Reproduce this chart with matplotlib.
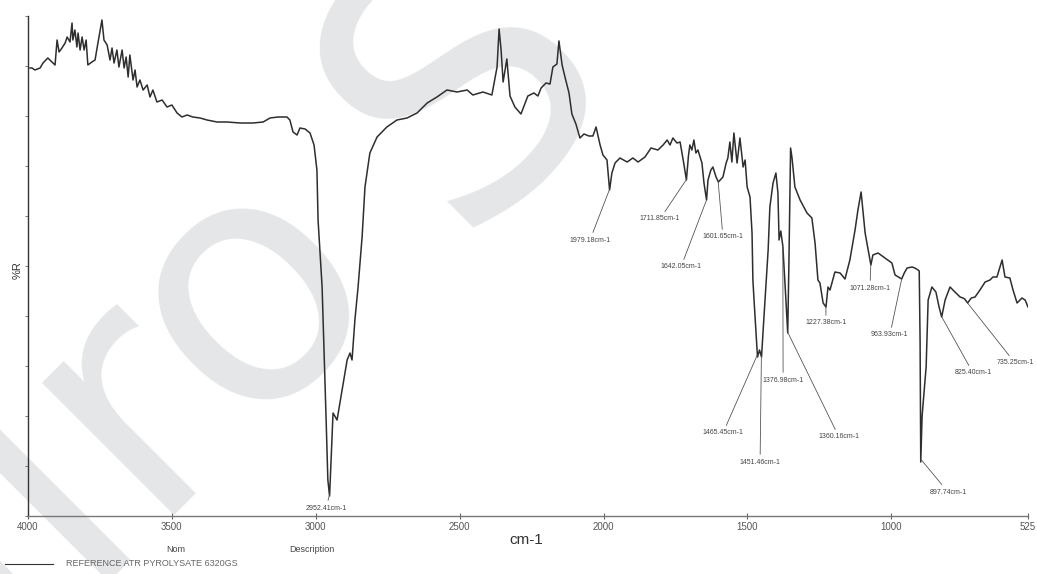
import matplotlib
matplotlib.use('Agg')
import matplotlib.pyplot as plt
import numpy as np

# ---------------- data ----------------
wavenumber = [3993, 3986, 3976, 3958, 3948, 3931, 3917, 3906, 3899, 3892, 3882, 3871, 3864, 3854,
              3847, 3844, 3837, 3830, 3826, 3819, 3812, 3805, 3798, 3792, 3778, 3767, 3757, 3743,
              3736, 3725, 3715, 3708, 3701, 3691, 3684, 3673, 3666, 3659, 3652, 3646, 3635, 3628,
              3621, 3611, 3600, 3586, 3576, 3566, 3552, 3534, 3517, 3500, 3482, 3465, 3447, 3427,
              3402, 3378, 3343, 3308, 3263, 3218, 3183, 3159, 3131, 3100, 3090, 3079, 3065, 3055,
              3037, 3020, 3006, 2996, 2992, 2978, 2971, 2964, 2958, 2952, 2944, 2940, 2926, 2916,
              2891, 2881, 2874, 2864, 2853, 2839, 2829, 2812, 2787, 2753, 2718, 2683, 2648, 2613,
              2579, 2544, 2509, 2474, 2454, 2419, 2388, 2370, 2363, 2356, 2349, 2336, 2325, 2308,
              2287, 2263, 2242, 2228, 2217, 2200, 2186, 2176, 2162, 2155, 2144, 2134, 2120, 2110,
              2096, 2082, 2068, 2051, 2037, 2026, 2012, 2002, 1988, 1979, 1971, 1960, 1943, 1918,
              1898, 1880, 1856, 1835, 1811, 1793, 1779, 1769, 1759, 1745, 1734, 1722, 1712, 1705,
              1700, 1693, 1686, 1679, 1672, 1658, 1651, 1642, 1637, 1627, 1620, 1609, 1601, 1585,
              1574, 1568, 1561, 1554, 1547, 1536, 1526, 1515, 1508, 1501, 1491, 1484, 1481, 1477,
              1470, 1465, 1458, 1451, 1446, 1435, 1428, 1422, 1411, 1401, 1394, 1390, 1384, 1377,
              1368, 1360, 1356, 1350, 1345, 1335, 1317, 1293, 1276, 1265, 1255, 1248, 1237, 1227,
              1220, 1213, 1196, 1178, 1161, 1144, 1126, 1116, 1105, 1091, 1071, 1064, 1046, 1022,
              998, 987, 975, 964, 955, 945, 928, 918, 907, 903, 900, 898, 897.7, 893, 879, 872,
              859, 845, 834, 825, 813, 796, 779, 761, 751, 745, 735, 722, 709, 692, 674, 657,
              647, 633, 615, 605, 588, 577, 563, 546, 535, 525]

reflectance = [89.6, 89.6, 89.2, 89.6, 90.6, 91.6, 90.8, 90.2, 95.2, 92.8, 93.6, 94.6, 95.8, 94.8,
               98.6, 95.2, 97.2, 93.8, 96.6, 93.2, 95.8, 93.2, 95.2, 90.2, 90.8, 91.2, 94.6, 99.2,
               95.2, 94.2, 91.2, 93.6, 90.6, 93.2, 89.8, 93.2, 89.6, 91.8, 87.8, 92.2, 87.2, 89.2,
               85.8, 87.2, 85.2, 86.2, 83.8, 85.2, 82.8, 83.2, 81.8, 82.2, 80.6, 79.8, 80.2, 79.8,
               79.6, 79.2, 78.8, 78.8, 78.6, 78.6, 78.8, 79.6, 79.8, 79.8, 79.2, 76.8, 76.2, 77.6,
               77.4, 76.6, 74.2, 69.2, 59.2, 45.8, 32.6, 19.2, 7.2, 4.0, 15.2, 20.6, 19.2, 22.6,
               31.2, 32.6, 31.2, 39.2, 45.8, 55.8, 65.8, 72.6, 75.8, 77.8, 79.2, 79.6, 80.6, 82.6,
               83.8, 85.2, 84.8, 85.2, 84.2, 84.8, 84.2, 89.8, 97.4, 93.2, 86.8, 91.4, 84.0, 81.8,
               80.4, 84.0, 84.6, 84.0, 85.6, 86.6, 86.4, 89.8, 90.4, 95.0, 90.2, 87.8, 84.6, 80.4,
               78.4, 75.6, 76.4, 76.0, 76.0, 77.8, 74.2, 72.2, 71.2, 65.2, 68.6, 70.6, 71.6, 70.8,
               71.6, 70.8, 71.8, 73.6, 73.2, 74.2, 75.2, 74.2, 75.6, 74.6, 74.8, 70.8, 67.2, 72.0,
               74.2, 73.2, 75.2, 72.6, 73.2, 70.6, 66.6, 63.2, 67.2, 69.2, 69.8, 67.8, 66.8, 67.8,
               70.6, 71.6, 74.8, 70.8, 76.6, 70.6, 75.6, 69.8, 71.2, 65.8, 63.8, 56.6, 47.2, 43.2,
               36.6, 31.8, 33.2, 31.8, 36.6, 46.6, 53.2, 61.8, 66.6, 68.6, 64.6, 55.2, 57.0, 54.0,
               45.0, 36.6, 50.0, 73.6, 71.6, 65.8, 63.2, 60.6, 59.6, 54.6, 47.2, 46.6, 42.6, 41.8,
               45.8, 45.2, 48.8, 48.6, 47.4, 51.2, 57.2, 61.2, 64.8, 56.6, 50.2, 52.2, 52.6, 51.6,
               50.6, 48.2, 47.8, 47.4, 48.6, 49.6, 49.8, 49.6, 49.2, 49.0, 35.0, 15.0, 10.8, 20.0, 29.8, 43.2,
               45.8, 44.8, 41.8, 39.8, 43.2, 45.8, 44.8, 43.8, 43.6, 43.4, 42.6, 43.6, 43.8, 45.2, 46.8, 47.2,
               47.8, 47.8, 51.2, 47.8, 47.6, 45.2, 42.6, 43.6, 43.2, 41.8]

peak_labels = ['2952.41cm-1', '1979.18cm-1', '1711.85cm-1', '1642.05cm-1', '1601.65cm-1',
               '1465.45cm-1', '1451.46cm-1', '1376.98cm-1', '1360.16cm-1', '1227.38cm-1',
               '1071.28cm-1', '963.93cm-1', '897.74cm-1', '825.40cm-1', '735.25cm-1']

x_ticks = [4000, 3500, 3000, 2500, 2000, 1500, 1000, 525]
x_tick_labels = ['4000', '3500', '3000', '2500', '2000', '1500', '1000', '525']

legend_label = 'REFERENCE ATR PYROLYSATE 6320GS'

# ---------------- layout ----------------
W, H = 1037, 574
FONT = ['Liberation Sans', 'DejaVu Sans']
plt.rcParams['font.family'] = FONT

# label text positions (layout, data coordinates)
label_pos = [(2964, 1.6), (2047, 55.2), (1804, 59.4), (1731, 49.8), (1585, 55.8),
             (1585, 16.6), (1456, 10.8), (1376, 27.2), (1182, 15.8), (1227, 38.6),
             (1074, 45.6), (1005, 36.2), (803, 4.8), (716, 28.6), (570, 30.6)]

fig = plt.figure(figsize=(W / 100, H / 100), dpi=100)
fig.patch.set_facecolor('white')

def fx(px):
    return px / W

def fy(py):
    return 1 - py / H

# watermark (drawn in two parts to follow the reference spacing)
WM = dict(rotation=45, rotation_mode='anchor', ha='center', va='center',
          color='#e5e6e8', family='DejaVu Sans', zorder=-10)
fig.text(fx(92), fy(446), 'giro', fontsize=245, **WM)
fig.text(fx(468), fy(82), 'S', fontsize=265, **WM)

ax = fig.add_axes([fx(28), fy(516), fx(1028) - fx(28), fy(16) - fy(516)])
ax.set_facecolor('none')
ax.set_xlim(4000, 525)
ax.set_ylim(0, 100)

ax.plot(wavenumber, reflectance, color='#2e2e2e', lw=1.1, zorder=3)

wn_inc = np.array(wavenumber[::-1], dtype=float)
r_inc = np.array(reflectance[::-1], dtype=float)
for lab, (tx, ty) in zip(peak_labels, label_pos):
    pw = float(lab.replace('cm-1', ''))
    pr = float(np.interp(pw, wn_inc, r_inc))
    ax.annotate(lab, xy=(pw, pr), xytext=(tx, ty), textcoords='data',
                fontsize=5, color='#444444', ha='center', va='center',
                annotation_clip=False,
                arrowprops=dict(arrowstyle='-', color='#555555', lw=0.6,
                                shrinkA=1, shrinkB=0))

for s in ['top', 'right']:
    ax.spines[s].set_visible(False)
ax.spines['left'].set_color('#333333')
ax.spines['left'].set_linewidth(1.0)
ax.spines['bottom'].set_color('#777777')
ax.spines['bottom'].set_linewidth(1.0)

ax.set_xticks(x_ticks)
ax.set_xticklabels(x_tick_labels)
ax.tick_params(axis='x', direction='inout', length=4, width=0.8, color='#666666',
               labelsize=7, labelcolor='#555555', pad=2)
ax.set_yticks(np.arange(0, 101, 10))
ax.set_yticklabels([])
ax.tick_params(axis='y', direction='out', length=2, width=0.6, color='#666666')

fig.text(fx(18), fy(270), '%R', rotation=90, ha='center', va='center',
         fontsize=8, color='#333333')
fig.text(fx(526), fy(540), 'cm-1', ha='center', va='center', fontsize=11, color='#333333')
fig.text(fx(176), fy(549), 'Nom', ha='center', va='center', fontsize=6.5, color='#444444')
fig.text(fx(312), fy(549), 'Description', ha='center', va='center', fontsize=6.5, color='#444444')
fig.add_artist(plt.Line2D([fx(5), fx(53)], [fy(564), fy(564)], color='#333333', lw=0.8))
fig.text(fx(66), fy(564), legend_label, ha='left', va='center', fontsize=6.5, color='#666666')

fig.savefig('out.png', dpi=100, facecolor='white')
